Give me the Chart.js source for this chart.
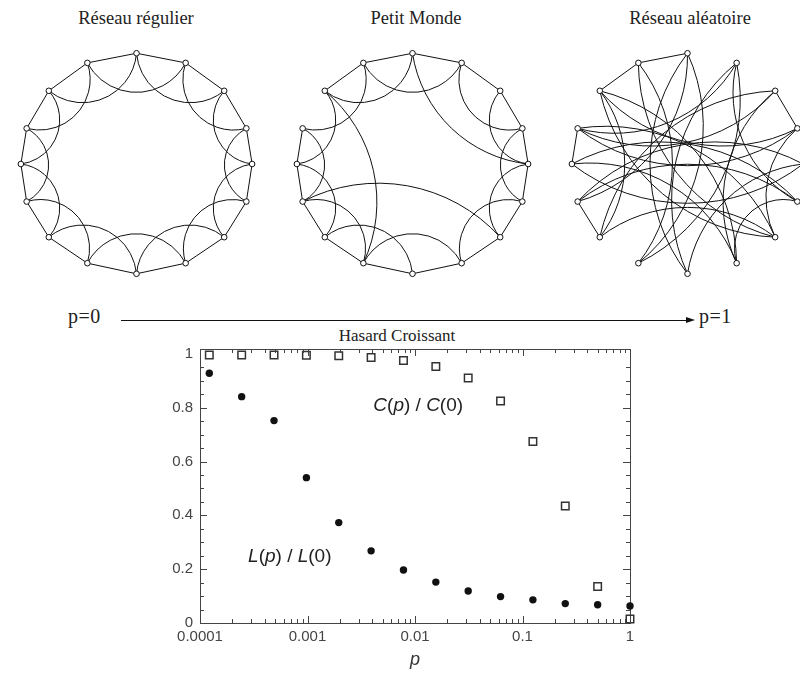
<!DOCTYPE html>
<html lang="fr">
<head>
<meta charset="utf-8">
<title>Réseau régulier, petit monde, réseau aléatoire</title>
<script src="https://cdn.jsdelivr.net/npm/chart.js@4.4.1/dist/chart.umd.min.js"></script>
<style>
  html, body { margin: 0; padding: 0; background: #fff; overflow: hidden; }
  #page { position: relative; width: 800px; height: 673px; overflow: hidden; }
  canvas { position: absolute; }
  .serif {
    position: absolute;
    font-family: 'Liberation Serif', 'DejaVu Serif', serif;
    color: #222;
    white-space: nowrap;
    line-height: 1;
  }
  .title { top: 9px; font-size: 18.5px; transform: translateX(-50%); }
  .pLabel { top: 306px; font-size: 20px; letter-spacing: 0.5px; }
  #hasard { top: 327px; left: 397px; font-size: 17px; transform: translateX(-50%); }
  #arrowLine { position: absolute; left: 121px; top: 320px; width: 567px; height: 0; border-top: 1.3px solid #111; }
  #arrowHead {
    position: absolute; left: 686px; top: 317px; width: 0; height: 0;
    border-left: 9px solid #111; border-top: 3.5px solid transparent; border-bottom: 3.5px solid transparent;
  }
</style>
</head>
<body>
<div id="page">
  <div class="serif title" style="left:136px">Réseau régulier</div>
  <div class="serif title" style="left:416px">Petit Monde</div>
  <div class="serif title" style="left:690px">Réseau aléatoire</div>

  <canvas id="regularNet" width="275" height="270" style="left:-1px; top:29px"></canvas>
  <canvas id="smallWorldNet" width="275" height="270" style="left:275px; top:29px"></canvas>
  <canvas id="randomNet" width="275" height="270" style="left:550px; top:29px"></canvas>

  <div class="serif pLabel" style="left:68px">p=0</div>
  <div id="arrowLine"></div>
  <div id="arrowHead"></div>
  <div class="serif pLabel" style="left:699px">p=1</div>
  <div class="serif" id="hasard">Hasard Croissant</div>

  <canvas id="ratioChart" width="520" height="343" style="left:150px; top:330px"></canvas>
</div>

<script>
'use strict';

// DATA
// ring of 16 nodes, clockwise from the top (pixels from the ring centre)
const ringX = [0, 51, 91, 114, 120, 114, 91, 51, 0, -51, -91, -114, -120, -114, -91, -51];
const ringY = [-115, -105, -76, -37, 0, 39, 76, 103, 114, 103, 76, 39, 0, -37, -76, -105];

// edges as node index pairs
const regularEdges = [
  [0, 1], [1, 2], [2, 3], [3, 4], [4, 5], [5, 6], [6, 7], [7, 8],
  [8, 9], [9, 10], [10, 11], [11, 12], [12, 13], [13, 14], [14, 15], [15, 0],
  [0, 2], [1, 3], [2, 4], [3, 5], [4, 6], [5, 7], [6, 8], [7, 9],
  [8, 10], [9, 11], [10, 12], [11, 13], [12, 14], [13, 15], [14, 0], [15, 1],
];
const smallWorldEdges = [
  [0, 1], [1, 2], [2, 3], [3, 4], [4, 5], [5, 6], [6, 7], [7, 8],
  [8, 9], [9, 10], [10, 11], [11, 12], [12, 13], [14, 15], [15, 0],
  [0, 4], [1, 3], [2, 4], [3, 5], [4, 6], [5, 7], [11, 6], [7, 9],
  [8, 10], [9, 11], [10, 12], [11, 13], [12, 14], [13, 15], [14, 0], [15, 1],
  [14, 9],
];
const randomEdges = [
  [0, 15], [15, 14], [0, 11], [0, 8], [0, 9], [15, 9], [15, 6], [1, 9],
  [1, 8], [1, 13], [14, 3], [14, 6], [14, 10], [14, 7], [2, 13], [2, 10],
  [2, 7], [2, 3], [13, 3], [13, 6], [13, 12], [12, 4], [12, 7], [12, 5],
  [11, 4], [11, 10], [10, 6], [8, 4], [7, 5], [6, 3], [11, 5], [5, 1],
];

// C(p)/C(0) and L(p)/L(0) against the rewiring probability p
const pValues = [0.00012207, 0.00024414, 0.00048828, 0.00097656, 0.0019531, 0.0039063, 0.0078125,
  0.015625, 0.03125, 0.0625, 0.125, 0.25, 0.5, 1];
const clusteringRatio = [0.996, 0.996, 0.996, 0.995, 0.993, 0.986, 0.975, 0.953, 0.91, 0.825, 0.674, 0.435, 0.136, 0.015];
const pathRatio = [0.928, 0.841, 0.752, 0.54, 0.373, 0.268, 0.197, 0.152, 0.119, 0.098, 0.086, 0.072, 0.068, 0.063];

const xTickValues = [0.0001, 0.001, 0.01, 0.1, 1];
const yTickValues = [0, 0.2, 0.4, 0.6, 0.8, 1];

// STYLE
const NEIGHBOUR_BEND = 0.3;
const LONG_BEND = 0.17;
const INK = '#111';
const AXIS = '#444';
const SANS = "'Liberation Sans', Arial, sans-serif";

Chart.defaults.font.family = SANS;

// NETWORKS
const nodePoint = i => ({ x: ringX[i], y: ringY[i] });

// start, apex (if curved) and end of an edge, in ring units
const edgeShape = function (a, b) {
  const p = nodePoint(a);
  const q = nodePoint(b);
  const gap = Math.abs(a - b);
  const steps = Math.min(gap, ringX.length - gap);
  if (steps === 1) return [p, q];

  const bend = steps === 2 ? NEIGHBOUR_BEND : LONG_BEND;
  const mx = (p.x + q.x) / 2;
  const my = (p.y + q.y) / 2;
  const len = Math.hypot(q.x - p.x, q.y - p.y);
  let nx = -(q.y - p.y) / len;
  let ny = (q.x - p.x) / len;
  // curve towards the middle of the ring
  if (-mx * nx - my * ny < 0) {
    nx = -nx;
    ny = -ny;
  }
  return [p, { x: mx + nx * bend * len, y: my + ny * bend * len }, q];
};

// circle arc through three pixel points
const arcThrough = function (ctx, a, b, c) {
  const d = 2 * (a.x * (b.y - c.y) + b.x * (c.y - a.y) + c.x * (a.y - b.y));
  const a2 = a.x * a.x + a.y * a.y;
  const b2 = b.x * b.x + b.y * b.y;
  const c2 = c.x * c.x + c.y * c.y;
  const ux = (a2 * (b.y - c.y) + b2 * (c.y - a.y) + c2 * (a.y - b.y)) / d;
  const uy = (a2 * (c.x - b.x) + b2 * (a.x - c.x) + c2 * (b.x - a.x)) / d;
  const r = Math.hypot(a.x - ux, a.y - uy);
  const turn = (b.x - a.x) * (c.y - b.y) - (b.y - a.y) * (c.x - b.x);
  ctx.moveTo(a.x, a.y);
  ctx.arc(ux, uy, r, Math.atan2(a.y - uy, a.x - ux), Math.atan2(c.y - uy, c.x - ux), turn < 0);
};

const edgePlugin = edges => ({
  id: 'edges',
  beforeDatasetsDraw(chart) {
    const { ctx, scales } = chart;
    const toPixel = pt => ({ x: scales.x.getPixelForValue(pt.x), y: scales.y.getPixelForValue(pt.y) });
    ctx.save();
    ctx.strokeStyle = INK;
    ctx.lineWidth = 1;
    edges.forEach(function ([a, b]) {
      const pts = edgeShape(a, b).map(toPixel);
      ctx.beginPath();
      if (pts.length === 2) {
        ctx.moveTo(pts[0].x, pts[0].y);
        ctx.lineTo(pts[1].x, pts[1].y);
      } else {
        arcThrough(ctx, pts[0], pts[1], pts[2]);
      }
      ctx.stroke();
    });
    ctx.restore();
  },
});

const drawNetwork = function (canvasId, edges) {
  new Chart(document.getElementById(canvasId), {
    type: 'scatter',
    data: {
      datasets: [
        {
          data: ringX.map((x, i) => nodePoint(i)),
          pointRadius: 2.8,
          pointBackgroundColor: '#fff',
          pointBorderColor: INK,
          pointBorderWidth: 1,
          clip: false,
        },
      ],
    },
    options: {
      responsive: false,
      animation: false,
      events: [],
      layout: { padding: 0 },
      plugins: { legend: { display: false }, tooltip: { enabled: false } },
      scales: {
        x: { type: 'linear', display: false, min: -137.5, max: 137.5 },
        y: { type: 'linear', display: false, min: -135, max: 135, reverse: true },
      },
    },
    plugins: [edgePlugin(edges)],
  });
};

drawNetwork('regularNet', regularEdges);
drawNetwork('smallWorldNet', smallWorldEdges);
drawNetwork('randomNet', randomEdges);

// RATIO CHART
// inward tick marks on all four sides
const inwardTicks = {
  id: 'inwardTicks',
  afterDraw(chart) {
    const { ctx, chartArea: area, scales } = chart;
    const xMinor = [];
    xTickValues.slice(0, -1).forEach(function (decade) {
      for (let k = 2; k < 10; k++) xMinor.push(decade * k);
    });
    const yMinor = [];
    for (let k = 1; k < 20; k++) yMinor.push(k * 0.05);

    ctx.save();
    ctx.strokeStyle = AXIS;
    ctx.lineWidth = 1;
    ctx.beginPath();
    const xTick = function (value, len) {
      const px = Math.round(scales.x.getPixelForValue(value)) + 0.5;
      ctx.moveTo(px, area.bottom);
      ctx.lineTo(px, area.bottom - len);
      ctx.moveTo(px, area.top);
      ctx.lineTo(px, area.top + len);
    };
    const yTick = function (value, len) {
      const py = Math.round(scales.y.getPixelForValue(value)) + 0.5;
      ctx.moveTo(area.left, py);
      ctx.lineTo(area.left + len, py);
      ctx.moveTo(area.right, py);
      ctx.lineTo(area.right - len, py);
    };
    xTickValues.forEach(v => xTick(v, 7));
    xMinor.forEach(v => xTick(v, 4));
    yMinor.forEach(v => yTick(v, Math.abs(v * 5 - Math.round(v * 5)) < 1e-9 ? 7 : 4));
    ctx.stroke();
    ctx.restore();
  },
};

// curve names written inside the plot, italic letters mixed with upright ones
const curveNames = {
  id: 'curveNames',
  afterDatasetsDraw(chart) {
    const { ctx, scales } = chart;
    const names = [
      { x: 0.0041, y: 0.807, runs: [['C', true], ['(', false], ['p', true], [') / ', false], ['C', true], ['(0)', false]] },
      { x: 0.00028, y: 0.245, runs: [['L', true], ['(', false], ['p', true], [') / ', false], ['L', true], ['(0)', false]] },
    ];
    ctx.save();
    ctx.fillStyle = '#222';
    ctx.textBaseline = 'middle';
    names.forEach(function (name) {
      let px = scales.x.getPixelForValue(name.x);
      const py = scales.y.getPixelForValue(name.y);
      name.runs.forEach(function ([text, italic]) {
        ctx.font = (italic ? 'italic ' : '') + '19px ' + SANS;
        ctx.fillText(text, px, py);
        px += ctx.measureText(text).width;
      });
    });
    ctx.restore();
  },
};

const tickFont = { size: 15 };

new Chart(document.getElementById('ratioChart'), {
  type: 'scatter',
  data: {
    datasets: [
      {
        label: 'C(p) / C(0)',
        data: pValues.map((p, i) => ({ x: p, y: clusteringRatio[i] })),
        pointStyle: 'rect',
        pointRadius: 5.3,
        pointBorderWidth: 1.5,
        pointBorderColor: '#333',
        pointBackgroundColor: 'rgba(255,255,255,0)',
        clip: false,
      },
      {
        label: 'L(p) / L(0)',
        data: pValues.map((p, i) => ({ x: p, y: pathRatio[i] })),
        pointStyle: 'circle',
        pointRadius: 3.7,
        pointBorderWidth: 0,
        pointBackgroundColor: INK,
        clip: false,
      },
    ],
  },
  options: {
    responsive: false,
    animation: false,
    events: [],
    layout: { padding: { left: 0, right: 40, top: 19, bottom: 0 } },
    plugins: { legend: { display: false }, tooltip: { enabled: false } },
    scales: {
      x: {
        type: 'logarithmic',
        position: 'bottom',
        min: 0.0001,
        max: 1,
        afterBuildTicks: s => { s.ticks = xTickValues.map(value => ({ value })); },
        afterFit: s => { s.height = 50; },
        ticks: { callback: v => String(v), font: tickFont, color: AXIS, padding: 5, maxRotation: 0, autoSkip: false },
        grid: { drawOnChartArea: false, drawTicks: false },
        border: { color: AXIS, width: 1 },
        title: { display: true, text: 'p', color: '#333', font: { size: 18, style: 'italic' }, padding: { top: 0, bottom: 2 } },
      },
      x2: {
        type: 'logarithmic',
        position: 'top',
        min: 0.0001,
        max: 1,
        afterFit: s => { s.height = 0; },
        ticks: { display: false },
        grid: { drawOnChartArea: false, drawTicks: false },
        border: { color: AXIS, width: 1 },
      },
      y: {
        type: 'linear',
        position: 'left',
        min: 0,
        max: 1.018,
        afterBuildTicks: s => { s.ticks = yTickValues.map(value => ({ value })); },
        afterFit: s => { s.width = 50; },
        ticks: { callback: v => String(v), font: tickFont, color: AXIS, padding: 7 },
        grid: { drawOnChartArea: false, drawTicks: false },
        border: { color: AXIS, width: 1 },
      },
      y2: {
        type: 'linear',
        position: 'right',
        min: 0,
        max: 1.018,
        afterFit: s => { s.width = 0; },
        ticks: { display: false },
        grid: { drawOnChartArea: false, drawTicks: false },
        border: { color: AXIS, width: 1 },
      },
    },
  },
  plugins: [inwardTicks, curveNames],
});
</script>
</body>
</html>
